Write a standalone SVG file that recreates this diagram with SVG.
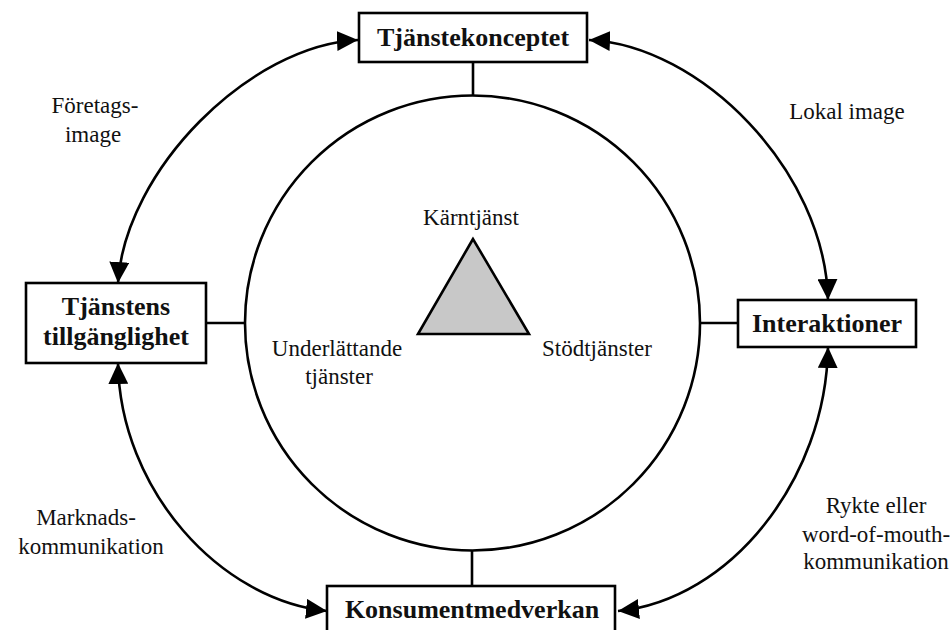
<svg xmlns="http://www.w3.org/2000/svg" width="952" height="630" viewBox="0 0 952 630">
  <style>
    .box { fill: #ffffff; stroke: #000000; stroke-width: 2.6; }
    .line { fill: none; stroke: #000000; stroke-width: 2.6; }
    .title { font-family: "Liberation Serif", "DejaVu Serif", serif; font-weight: bold; font-size: 26px; fill: #111111; text-anchor: middle; }
    .label { font-family: "Liberation Serif", "DejaVu Serif", serif; font-size: 23px; fill: #111111; text-anchor: middle; }
  </style>
  <defs>
    <marker id="arrow" markerUnits="userSpaceOnUse" markerWidth="22" markerHeight="20" refX="21" refY="10" orient="auto-start-reverse">
      <path d="M0,0 L21,10 L0,20 Z" fill="#000000"/>
    </marker>
  </defs>
  <rect width="952" height="630" fill="#ffffff"/>

  <!-- connectors -->
  <g id="connectors">
    <!-- short links from boxes to the ring -->
    <path class="line" d="M473,62 L473,96"/>
    <path class="line" d="M206,323 L245,323"/>
    <path class="line" d="M700,323 L738,323"/>
    <path class="line" d="M472,550 L472,586"/>
    <!-- curved two-way arrows between boxes -->
    <path class="line" d="M358,40 C250,45 125,170 118,283" marker-start="url(#arrow)" marker-end="url(#arrow)"/>
    <path class="line" d="M589,40 C700,45 825,170 828,300" marker-start="url(#arrow)" marker-end="url(#arrow)"/>
    <path class="line" d="M118,363 C120,490 220,600 327,611" marker-start="url(#arrow)" marker-end="url(#arrow)"/>
    <path class="line" d="M828,347 C826,480 730,600 618,611" marker-start="url(#arrow)" marker-end="url(#arrow)"/>
  </g>

  <!-- central ring with the service triangle -->
  <g id="core">
    <circle class="line" cx="472.5" cy="323" r="227.5"/>
    <polygon points="473,239 418,334 529,334" fill="#c8c8c8" stroke="#000000" stroke-width="2.6" stroke-linejoin="miter"/>
    <text class="label" x="471" y="225">Kärntjänst</text>
    <text class="label" x="337" y="356">Underlättande</text>
    <text class="label" x="339" y="384">tjänster</text>
    <text class="label" x="597" y="356">Stödtjänster</text>
  </g>

  <g id="tjanstekonceptet">
    <rect class="box" x="359" y="13" width="228" height="49"/>
    <text class="title" x="473" y="46">Tjänstekonceptet</text>
  </g>

  <g id="tillganglighet">
    <rect class="box" x="26" y="283" width="180" height="80"/>
    <text class="title" x="116" y="315">Tjänstens</text>
    <text class="title" x="116" y="345">tillgänglighet</text>
  </g>

  <g id="interaktioner">
    <rect class="box" x="738" y="300" width="178" height="47"/>
    <text class="title" x="827" y="332">Interaktioner</text>
  </g>

  <g id="konsumentmedverkan">
    <rect class="box" x="327" y="586" width="288" height="60"/>
    <text class="title" x="472" y="618">Konsumentmedverkan</text>
  </g>

  <!-- arrow labels -->
  <g id="labels">
    <text class="label" x="95" y="113">Företags-</text>
    <text class="label" x="93" y="142">image</text>
    <text class="label" x="847" y="119">Lokal image</text>
    <text class="label" x="86" y="525">Marknads-</text>
    <text class="label" x="91" y="554">kommunikation</text>
    <text class="label" x="876" y="513">Rykte eller</text>
    <text class="label" x="876" y="542">word-of-mouth-</text>
    <text class="label" x="876" y="569">kommunikation</text>
  </g>
</svg>
